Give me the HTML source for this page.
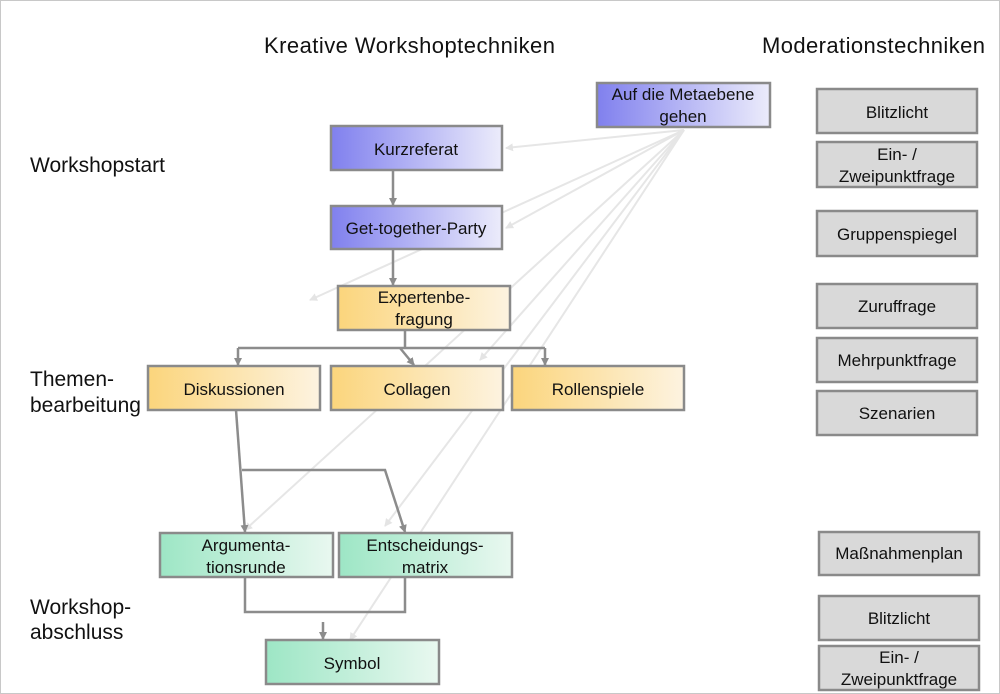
<!DOCTYPE html>
<html><head><meta charset="utf-8"><style>
body{margin:0;background:#fff}
svg{display:block;font-family:"Liberation Sans",sans-serif}
</style></head><body>
<svg width="1000" height="694" viewBox="0 0 1000 694">
<defs>
<linearGradient id="gb" x1="0" x2="1"><stop offset="0" stop-color="#8080ee"/><stop offset="1" stop-color="#ececfb"/></linearGradient>
<linearGradient id="gy" x1="0" x2="1"><stop offset="0" stop-color="#fbd57c"/><stop offset="1" stop-color="#fdf3e0"/></linearGradient>
<linearGradient id="gg" x1="0" x2="1"><stop offset="0" stop-color="#9de6c5"/><stop offset="1" stop-color="#e9f8f0"/></linearGradient>
<marker id="a" markerWidth="8" markerHeight="8" refX="7" refY="4" orient="auto" markerUnits="userSpaceOnUse"><path d="M0,0L8,4L0,8z" fill="#8c8c8c"/></marker>
<marker id="al" markerWidth="8" markerHeight="8" refX="7" refY="4" orient="auto" markerUnits="userSpaceOnUse"><path d="M0,0L8,4L0,8z" fill="#e4e4e4"/></marker>
</defs>
<rect x="0.5" y="0.5" width="999" height="693" fill="#fff" stroke="#c8c8c8"/>
<g stroke="#e6e6e6" stroke-width="2" fill="none" marker-end="url(#al)">
<line x1="684" y1="130" x2="506" y2="148"/>
<line x1="684" y1="130" x2="506" y2="228"/>
<line x1="684" y1="130" x2="310" y2="300"/>
<line x1="684" y1="130" x2="245" y2="530"/>
<line x1="684" y1="130" x2="385" y2="526"/>
<line x1="684" y1="130" x2="350" y2="640"/>
<line x1="684" y1="130" x2="480" y2="360"/>
</g>
<g stroke="#8c8c8c" stroke-width="2.5" fill="none">
<line x1="393" y1="170" x2="393" y2="205" marker-end="url(#a)"/>
<line x1="393" y1="249" x2="393" y2="285" marker-end="url(#a)"/>
<polyline points="405,330 405,348"/>
<line x1="238" y1="348" x2="545" y2="348"/>
<line x1="238" y1="348" x2="238" y2="365" marker-end="url(#a)"/>
<line x1="400" y1="348" x2="414" y2="365" marker-end="url(#a)"/>
<line x1="545" y1="348" x2="545" y2="365" marker-end="url(#a)"/>
<line x1="236" y1="410" x2="245" y2="532" marker-end="url(#a)"/>
<polyline points="242,470 385,470 405,532" marker-end="url(#a)"/>
<polyline points="245,577 245,612 405,612 405,577"/>
<line x1="323" y1="622" x2="323" y2="639" marker-end="url(#a)"/>
</g>
<g stroke="#8a8a8a" stroke-width="2.5">
<rect x="597" y="83" width="173" height="44" fill="url(#gb)"/>
<rect x="331" y="126" width="171" height="44" fill="url(#gb)"/>
<rect x="331" y="206" width="171" height="43" fill="url(#gb)"/>
<rect x="338" y="286" width="172" height="44" fill="url(#gy)"/>
<rect x="148" y="366" width="172" height="44" fill="url(#gy)"/>
<rect x="331" y="366" width="172" height="44" fill="url(#gy)"/>
<rect x="512" y="366" width="172" height="44" fill="url(#gy)"/>
<rect x="160" y="533" width="173" height="44" fill="url(#gg)"/>
<rect x="339" y="533" width="173" height="44" fill="url(#gg)"/>
<rect x="266" y="640" width="173" height="44" fill="url(#gg)"/>
</g>
<g stroke="#8a8a8a" stroke-width="2.5" fill="#d9d9d9">
<rect x="817" y="89" width="160" height="44"/>
<rect x="817" y="142" width="160" height="45"/>
<rect x="817" y="211" width="160" height="45"/>
<rect x="817" y="284" width="160" height="44"/>
<rect x="817" y="338" width="160" height="44"/>
<rect x="817" y="391" width="160" height="44"/>
<rect x="819" y="532" width="160" height="43"/>
<rect x="819" y="596" width="160" height="44"/>
<rect x="819" y="646" width="160" height="44"/>
</g>
<g font-size="17" fill="#111" text-anchor="middle">
<text x="683" y="100">Auf die Metaebene</text><text x="683" y="122">gehen</text>
<text x="416" y="155">Kurzreferat</text>
<text x="416" y="234">Get-together-Party</text>
<text x="424" y="303">Expertenbe-</text><text x="424" y="325">fragung</text>
<text x="234" y="395">Diskussionen</text>
<text x="417" y="395">Collagen</text>
<text x="598" y="395">Rollenspiele</text>
<text x="246" y="551">Argumenta-</text><text x="246" y="573">tionsrunde</text>
<text x="425" y="551">Entscheidungs-</text><text x="425" y="573">matrix</text>
<text x="352" y="669">Symbol</text>
<text x="897" y="118">Blitzlicht</text>
<text x="897" y="160">Ein- /</text><text x="897" y="182">Zweipunktfrage</text>
<text x="897" y="240">Gruppenspiegel</text>
<text x="897" y="312">Zuruffrage</text>
<text x="897" y="366">Mehrpunktfrage</text>
<text x="897" y="419">Szenarien</text>
<text x="899" y="559">Maßnahmenplan</text>
<text x="899" y="624">Blitzlicht</text>
<text x="899" y="663">Ein- /</text><text x="899" y="685">Zweipunktfrage</text>
</g>
<g font-size="21" fill="#111">
<text x="264" y="53" font-size="22" textLength="291">Kreative  Workshoptechniken</text>
<text x="762" y="53" font-size="22" textLength="223">Moderationstechniken</text>
<text x="30" y="172">Workshopstart</text>
<text x="30" y="386">Themen-</text><text x="30" y="412">bearbeitung</text>
<text x="30" y="614">Workshop-</text><text x="30" y="639">abschluss</text>
</g>
</svg>
</body></html>
